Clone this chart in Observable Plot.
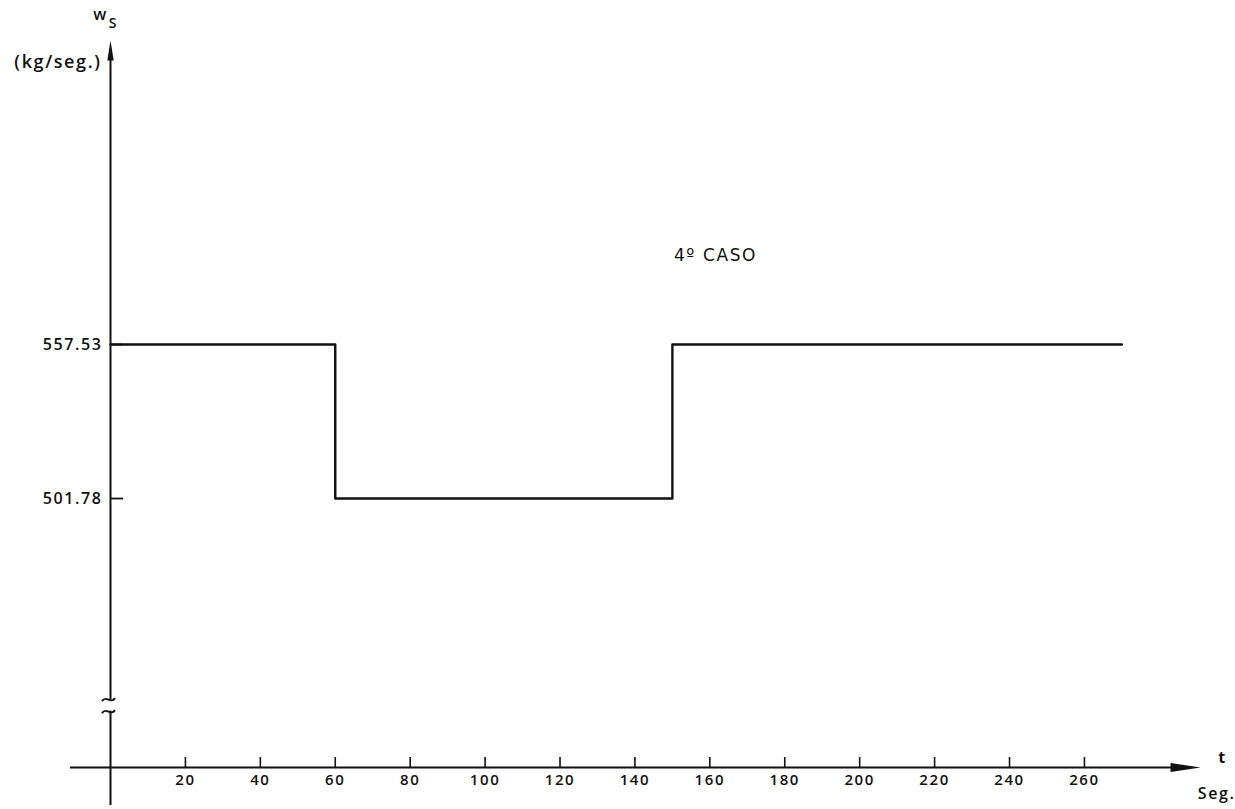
<!DOCTYPE html>
<html>
<head>
<meta charset="utf-8">
<script src="https://cdn.jsdelivr.net/npm/d3@7"></script>
<script src="https://cdn.jsdelivr.net/npm/@observablehq/plot@0.6"></script>
<style>
  html, body { margin: 0; padding: 0; background: #fff; }
  #chart svg { display: block; }
</style>
</head>
<body>
<div id="chart"></div>
<script>
// ---- data ----
const tValues = [0, 60, 150, 270];                 // seg (step changes)
const wValues = [557.53, 501.78, 557.53, 557.53];  // kg/seg
const xTicks = [20, 40, 60, 80, 100, 120, 140, 160, 180, 200, 220, 240, 260];
const yTicks = [501.78, 557.53];
const caseLabel = ["4º CASO"];

// ---- axis extents (data units) ----
const yBase = 404.4;   // where the (broken) time axis sits
const yTop = 667.6;    // tip of the vertical arrow
const yLow = 390.6;    // vertical axis runs a bit below the time axis
const yBreak = 426.8;  // axis break mark
const breakGap = 2.0;
const xLeft = -10.7;
const xRight = 291;

const series = tValues.map((t, i) => ({t, w: wValues[i]}));

const headUp = {draw(ctx) { ctx.moveTo(0, 0); ctx.lineTo(3.2, 20); ctx.lineTo(-3.2, 20); ctx.closePath(); }};
const headRight = {draw(ctx) { ctx.moveTo(0, 0); ctx.lineTo(4.5, 30); ctx.lineTo(-4.5, 30); ctx.closePath(); }};
// two stacked tildes marking the broken axis
const breakMark = {draw(ctx) {
  for (const o of [-6, 6]) {
    ctx.moveTo(-6.5, o + 1.5);
    ctx.bezierCurveTo(-2.5, o - 5, 2.5, o + 5, 6.5, o - 1.5);
  }
}};

const font = "'Open Sans', 'DejaVu Sans', sans-serif";

const chart = Plot.plot({
  width: 1235,
  height: 809,
  marginLeft: 110,
  marginRight: 113.6,
  marginTop: 40,
  marginBottom: 42,
  style: {fontFamily: font, fontWeight: 600, color: "#111", background: "#fff", letterSpacing: "1.6px"},
  x: {domain: [0, 270]},
  y: {domain: [yBase, yTop]},
  marks: [
    // axes lines (vertical axis broken near the bottom)
    Plot.ruleX([0], {y1: yLow, y2: yBreak - breakGap, stroke: "#111", strokeWidth: 2}),
    Plot.ruleX([0], {y1: yBreak + breakGap, y2: yTop - 4, stroke: "#111", strokeWidth: 2}),
    Plot.ruleY([yBase], {x1: xLeft, x2: xRight - 4, stroke: "#111", strokeWidth: 2}),
    Plot.dot([{x: 0, y: yTop}], {x: "x", y: "y", symbol: headUp, fill: "#111", stroke: "none", r: 5}),
    Plot.dot([{x: xRight, y: yBase}], {x: "x", y: "y", symbol: headRight, rotate: 90, fill: "#111", stroke: "none", r: 5}),
    Plot.dot([{x: 0, y: yBreak}], {x: "x", y: "y", symbol: breakMark, dx: -2, fill: "none", stroke: "#111", strokeWidth: 2, r: 5}),
    // ticks
    Plot.ruleX(xTicks, {x: d => d, y1: yBase, y2: yBase + 3.6, stroke: "#111", strokeWidth: 1.6}),
    Plot.ruleY(yTicks, {y: d => d, x1: 0, x2: 3.5, stroke: "#111", strokeWidth: 1.8}),
    Plot.axisX({ticks: xTicks, tickSize: 0, tickPadding: 7, label: null, fontSize: 15, fill: "#111"}),
    Plot.axisY({ticks: yTicks, tickSize: 0, tickPadding: 8, label: null, fontSize: 16, tickFormat: d => d.toFixed(2), fill: "#111"}),
    // axis titles
    Plot.text(["w"], {x: 0, y: yTop, text: d => d, dx: -10, dy: -26, fontSize: 16, fill: "#111"}),
    Plot.text(["S"], {x: 0, y: yTop, text: d => d, dx: 3, dy: -17, fontSize: 14, fill: "#111"}),
    Plot.text(["(kg/seg.)"], {x: 0, y: yTop, text: d => d, dx: -9, dy: 22, textAnchor: "end", fontSize: 18, fill: "#111"}),
    Plot.text(["t"], {x: xRight, y: yBase, text: d => d, dx: 22, dy: -10, fontSize: 16, fontWeight: 700, fill: "#111"}),
    Plot.text(["Seg."], {x: xRight, y: yBase, text: d => d, dx: 16, dy: 26, fontSize: 16, fill: "#111"}),
    // annotation (DejaVu renders the underlined ordinal indicator)
    Plot.text(caseLabel, {x: 161.5, y: 589.7, text: d => d, fontSize: 17, fontFamily: "'DejaVu Sans', sans-serif", fontWeight: 400, fill: "#111"}),
    // data
    Plot.line(series, {x: "t", y: "w", curve: "step-after", stroke: "#111", strokeWidth: 2.4})
  ]
});
document.getElementById("chart").appendChild(chart);
</script>
</body>
</html>
